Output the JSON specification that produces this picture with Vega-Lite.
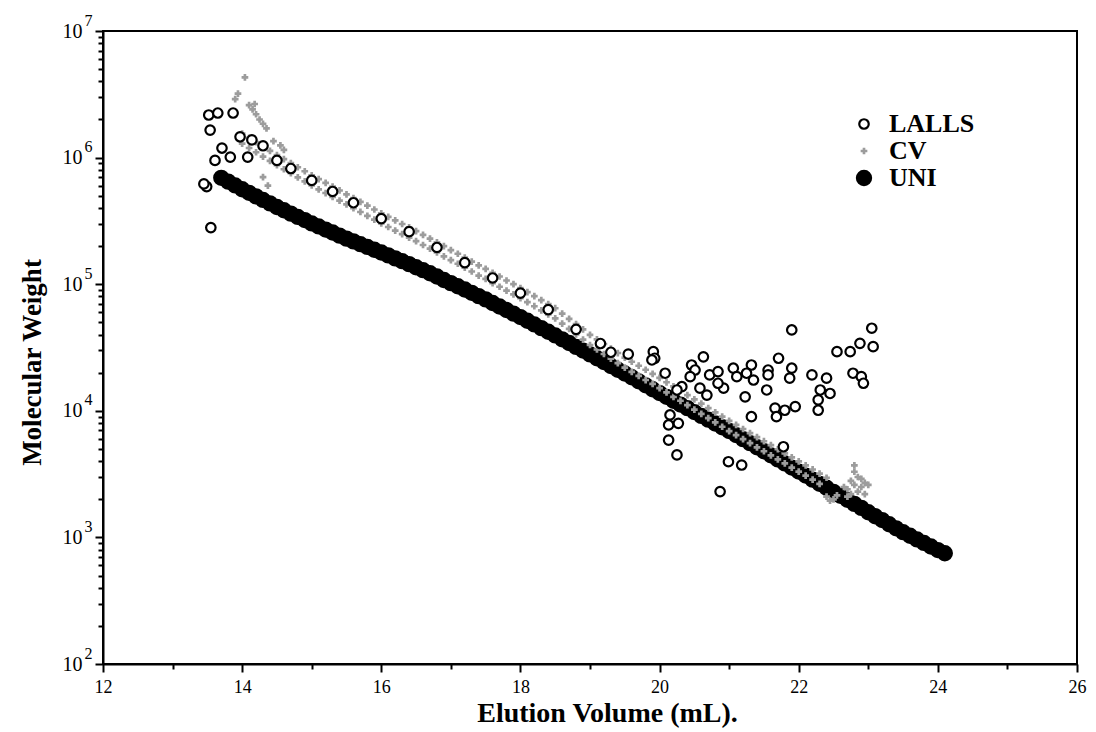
{
"$schema": "https://vega.github.io/schema/vega-lite/v6.json",
"width": 974, "height": 633,
"autosize": {"type": "none"},
"padding": {"left": 103, "top": 31, "right": 19, "bottom": 68},
"background": "white",
"config": {"view": {"stroke": "black", "strokeWidth": 2}, "font": "Liberation Serif"},
"data": {"values": [
{"s":"UNI","v":13.7,"m":692000},{"s":"UNI","v":13.8,"m":646000},{"s":"UNI","v":13.9,"m":603000},{"s":"UNI","v":14.0,"m":562000},{"s":"UNI","v":14.1,"m":527000},{"s":"UNI","v":14.2,"m":494000},{"s":"UNI","v":14.3,"m":463000},{"s":"UNI","v":14.4,"m":435000},{"s":"UNI","v":14.5,"m":407000},{"s":"UNI","v":14.6,"m":384000},{"s":"UNI","v":14.7,"m":361000},{"s":"UNI","v":14.8,"m":340000},{"s":"UNI","v":14.9,"m":321000},{"s":"UNI","v":15.0,"m":302000},{"s":"UNI","v":15.1,"m":286000},{"s":"UNI","v":15.2,"m":270000},{"s":"UNI","v":15.3,"m":256000},{"s":"UNI","v":15.4,"m":242000},{"s":"UNI","v":15.5,"m":229000},{"s":"UNI","v":15.6,"m":218000},{"s":"UNI","v":15.7,"m":207000},{"s":"UNI","v":15.8,"m":197000},{"s":"UNI","v":15.9,"m":187000},{"s":"UNI","v":16.0,"m":178000},{"s":"UNI","v":16.1,"m":169000},{"s":"UNI","v":16.2,"m":160000},{"s":"UNI","v":16.3,"m":152000},{"s":"UNI","v":16.4,"m":144000},{"s":"UNI","v":16.5,"m":136000},{"s":"UNI","v":16.6,"m":129000},{"s":"UNI","v":16.7,"m":122000},{"s":"UNI","v":16.8,"m":115000},{"s":"UNI","v":16.9,"m":108000},{"s":"UNI","v":17.0,"m":102000},{"s":"UNI","v":17.1,"m":96400},{"s":"UNI","v":17.2,"m":90800},{"s":"UNI","v":17.3,"m":85500},{"s":"UNI","v":17.4,"m":80500},{"s":"UNI","v":17.5,"m":75900},{"s":"UNI","v":17.6,"m":71100},{"s":"UNI","v":17.7,"m":66700},{"s":"UNI","v":17.8,"m":62500},{"s":"UNI","v":17.9,"m":58600},{"s":"UNI","v":18.0,"m":55000},{"s":"UNI","v":18.1,"m":51400},{"s":"UNI","v":18.2,"m":48100},{"s":"UNI","v":18.3,"m":45000},{"s":"UNI","v":18.4,"m":42100},{"s":"UNI","v":18.5,"m":39400},{"s":"UNI","v":18.6,"m":36700},{"s":"UNI","v":18.7,"m":34300},{"s":"UNI","v":18.8,"m":32000},{"s":"UNI","v":18.9,"m":29900},{"s":"UNI","v":19.0,"m":27900},{"s":"UNI","v":19.1,"m":26000},{"s":"UNI","v":19.2,"m":24300},{"s":"UNI","v":19.3,"m":22600},{"s":"UNI","v":19.4,"m":21100},{"s":"UNI","v":19.5,"m":19700},{"s":"UNI","v":19.6,"m":18400},{"s":"UNI","v":19.7,"m":17100},{"s":"UNI","v":19.8,"m":15900},{"s":"UNI","v":19.9,"m":14800},{"s":"UNI","v":20.0,"m":13800},{"s":"UNI","v":20.1,"m":12900},{"s":"UNI","v":20.2,"m":12000},{"s":"UNI","v":20.3,"m":11200},{"s":"UNI","v":20.4,"m":10500},{"s":"UNI","v":20.5,"m":9770},{"s":"UNI","v":20.6,"m":9120},{"s":"UNI","v":20.7,"m":8510},{"s":"UNI","v":20.8,"m":7940},{"s":"UNI","v":20.9,"m":7410},{"s":"UNI","v":21.0,"m":6920},{"s":"UNI","v":21.1,"m":6430},{"s":"UNI","v":21.2,"m":5970},{"s":"UNI","v":21.3,"m":5550},{"s":"UNI","v":21.4,"m":5150},{"s":"UNI","v":21.5,"m":4790},{"s":"UNI","v":21.6,"m":4450},{"s":"UNI","v":21.7,"m":4130},{"s":"UNI","v":21.8,"m":3840},{"s":"UNI","v":21.9,"m":3560},{"s":"UNI","v":22.0,"m":3310},{"s":"UNI","v":22.1,"m":3080},{"s":"UNI","v":22.2,"m":2860},{"s":"UNI","v":22.3,"m":2650},{"s":"UNI","v":22.4,"m":2470},{"s":"UNI","v":22.5,"m":2290},{"s":"UNI","v":22.6,"m":2130},{"s":"UNI","v":22.7,"m":1980},{"s":"UNI","v":22.8,"m":1840},{"s":"UNI","v":22.9,"m":1710},{"s":"UNI","v":23.0,"m":1580},{"s":"UNI","v":23.1,"m":1470},{"s":"UNI","v":23.2,"m":1370},{"s":"UNI","v":23.3,"m":1270},{"s":"UNI","v":23.4,"m":1180},{"s":"UNI","v":23.5,"m":1100},{"s":"UNI","v":23.6,"m":1030},{"s":"UNI","v":23.7,"m":964},{"s":"UNI","v":23.8,"m":904},{"s":"UNI","v":23.9,"m":847},{"s":"UNI","v":24.0,"m":794},{"s":"UNI","v":24.1,"m":750},
{"s":"CV","v":14.0,"m":1549000},{"s":"CV","v":14.0,"m":1288000},{"s":"CV","v":14.1,"m":1432000},{"s":"CV","v":14.1,"m":1191000},{"s":"CV","v":14.2,"m":1324000},{"s":"CV","v":14.2,"m":1102000},{"s":"CV","v":14.3,"m":1225000},{"s":"CV","v":14.3,"m":1019000},{"s":"CV","v":14.4,"m":1132000},{"s":"CV","v":14.4,"m":942000},{"s":"CV","v":14.5,"m":1047000},{"s":"CV","v":14.5,"m":871000},{"s":"CV","v":14.6,"m":973000},{"s":"CV","v":14.6,"m":809000},{"s":"CV","v":14.7,"m":904000},{"s":"CV","v":14.7,"m":752000},{"s":"CV","v":14.8,"m":839000},{"s":"CV","v":14.8,"m":698000},{"s":"CV","v":14.9,"m":780000},{"s":"CV","v":14.9,"m":649000},{"s":"CV","v":15.0,"m":724000},{"s":"CV","v":15.0,"m":603000},{"s":"CV","v":15.1,"m":676000},{"s":"CV","v":15.1,"m":562000},{"s":"CV","v":15.2,"m":631000},{"s":"CV","v":15.2,"m":525000},{"s":"CV","v":15.3,"m":589000},{"s":"CV","v":15.3,"m":490000},{"s":"CV","v":15.4,"m":550000},{"s":"CV","v":15.4,"m":457000},{"s":"CV","v":15.5,"m":513000},{"s":"CV","v":15.5,"m":427000},{"s":"CV","v":15.6,"m":479000},{"s":"CV","v":15.6,"m":398000},{"s":"CV","v":15.7,"m":447000},{"s":"CV","v":15.7,"m":372000},{"s":"CV","v":15.8,"m":417000},{"s":"CV","v":15.8,"m":347000},{"s":"CV","v":15.9,"m":389000},{"s":"CV","v":15.9,"m":324000},{"s":"CV","v":16.0,"m":363000},{"s":"CV","v":16.0,"m":302000},{"s":"CV","v":16.1,"m":340000},{"s":"CV","v":16.1,"m":283000},{"s":"CV","v":16.2,"m":319000},{"s":"CV","v":16.2,"m":265000},{"s":"CV","v":16.3,"m":299000},{"s":"CV","v":16.3,"m":249000},{"s":"CV","v":16.4,"m":281000},{"s":"CV","v":16.4,"m":233000},{"s":"CV","v":16.5,"m":263000},{"s":"CV","v":16.5,"m":219000},{"s":"CV","v":16.6,"m":245000},{"s":"CV","v":16.6,"m":204000},{"s":"CV","v":16.7,"m":229000},{"s":"CV","v":16.7,"m":191000},{"s":"CV","v":16.8,"m":214000},{"s":"CV","v":16.8,"m":178000},{"s":"CV","v":16.9,"m":200000},{"s":"CV","v":16.9,"m":166000},{"s":"CV","v":17.0,"m":186000},{"s":"CV","v":17.0,"m":155000},{"s":"CV","v":17.1,"m":174000},{"s":"CV","v":17.1,"m":145000},{"s":"CV","v":17.2,"m":162000},{"s":"CV","v":17.2,"m":135000},{"s":"CV","v":17.3,"m":151000},{"s":"CV","v":17.3,"m":126000},{"s":"CV","v":17.4,"m":141000},{"s":"CV","v":17.4,"m":117000},{"s":"CV","v":17.5,"m":132000},{"s":"CV","v":17.5,"m":110000},{"s":"CV","v":17.6,"m":123000},{"s":"CV","v":17.6,"m":102000},{"s":"CV","v":17.7,"m":115000},{"s":"CV","v":17.7,"m":95500},{"s":"CV","v":17.8,"m":107000},{"s":"CV","v":17.8,"m":89100},{"s":"CV","v":17.9,"m":100000},{"s":"CV","v":17.9,"m":83200},{"s":"CV","v":18.0,"m":93300},{"s":"CV","v":18.0,"m":77600},{"s":"CV","v":18.1,"m":86700},{"s":"CV","v":18.1,"m":72100},{"s":"CV","v":18.2,"m":80500},{"s":"CV","v":18.2,"m":67000},{"s":"CV","v":18.3,"m":74800},{"s":"CV","v":18.3,"m":62200},{"s":"CV","v":18.4,"m":69500},{"s":"CV","v":18.4,"m":57800},{"s":"CV","v":18.5,"m":64600},{"s":"CV","v":18.5,"m":53700},{"s":"CV","v":18.6,"m":58600},{"s":"CV","v":18.6,"m":48800},{"s":"CV","v":18.7,"m":53200},{"s":"CV","v":18.7,"m":44300},{"s":"CV","v":18.8,"m":48300},{"s":"CV","v":18.8,"m":40200},{"s":"CV","v":18.9,"m":43900},{"s":"CV","v":18.9,"m":36500},{"s":"CV","v":19.0,"m":39800},{"s":"CV","v":19.0,"m":33100},{"s":"CV","v":19.1,"m":36600},{"s":"CV","v":19.1,"m":30500},{"s":"CV","v":19.2,"m":33700},{"s":"CV","v":19.2,"m":28100},{"s":"CV","v":19.3,"m":31000},{"s":"CV","v":19.3,"m":25800},{"s":"CV","v":19.4,"m":28600},{"s":"CV","v":19.4,"m":23800},{"s":"CV","v":19.5,"m":26300},{"s":"CV","v":19.5,"m":21900},{"s":"CV","v":19.6,"m":24400},{"s":"CV","v":19.6,"m":20300},{"s":"CV","v":19.7,"m":22700},{"s":"CV","v":19.7,"m":18900},{"s":"CV","v":19.8,"m":21100},{"s":"CV","v":19.8,"m":17500},{"s":"CV","v":19.9,"m":19600},{"s":"CV","v":19.9,"m":16300},{"s":"CV","v":20.0,"m":18200},{"s":"CV","v":20.0,"m":15100},{"s":"CV","v":20.1,"m":16800},{"s":"CV","v":20.1,"m":14000},{"s":"CV","v":20.2,"m":15600},{"s":"CV","v":20.2,"m":12900},{"s":"CV","v":20.3,"m":14400},{"s":"CV","v":20.3,"m":12000},{"s":"CV","v":20.4,"m":13300},{"s":"CV","v":20.4,"m":11100},{"s":"CV","v":20.5,"m":12300},{"s":"CV","v":20.5,"m":10200},{"s":"CV","v":20.6,"m":11400},{"s":"CV","v":20.6,"m":9460},{"s":"CV","v":20.7,"m":10500},{"s":"CV","v":20.7,"m":8750},{"s":"CV","v":20.8,"m":9730},{"s":"CV","v":20.8,"m":8090},{"s":"CV","v":20.9,"m":8990},{"s":"CV","v":20.9,"m":7480},{"s":"CV","v":21.0,"m":8320},{"s":"CV","v":21.0,"m":6920},{"s":"CV","v":21.1,"m":7730},{"s":"CV","v":21.1,"m":6430},{"s":"CV","v":21.2,"m":7180},{"s":"CV","v":21.2,"m":5970},{"s":"CV","v":21.3,"m":6670},{"s":"CV","v":21.3,"m":5550},{"s":"CV","v":21.4,"m":6190},{"s":"CV","v":21.4,"m":5150},{"s":"CV","v":21.5,"m":5750},{"s":"CV","v":21.5,"m":4790},{"s":"CV","v":21.6,"m":5350},{"s":"CV","v":21.6,"m":4450},{"s":"CV","v":21.7,"m":4970},{"s":"CV","v":21.7,"m":4130},{"s":"CV","v":21.8,"m":4610},{"s":"CV","v":21.8,"m":3840},{"s":"CV","v":21.9,"m":4290},{"s":"CV","v":21.9,"m":3560},{"s":"CV","v":22.0,"m":3980},{"s":"CV","v":22.0,"m":3310},{"s":"CV","v":22.1,"m":3700},{"s":"CV","v":22.1,"m":3080},{"s":"CV","v":22.2,"m":3440},{"s":"CV","v":22.2,"m":2860},{"s":"CV","v":22.3,"m":3190},{"s":"CV","v":22.3,"m":2650},{"s":"CV","v":22.4,"m":2960},{"s":"CV","v":22.4,"m":2100},{"s":"CV","v":22.45,"m":1950},{"s":"CV","v":22.5,"m":2000},{"s":"CV","v":22.55,"m":2150},
{"s":"CV","v":22.65,"m":2500},{"s":"CV","v":22.7,"m":2400},{"s":"CV","v":22.7,"m":2100},{"s":"CV","v":22.75,"m":2800},{"s":"CV","v":22.75,"m":2200},{"s":"CV","v":22.8,"m":3300},{"s":"CV","v":22.8,"m":2600},{"s":"CV","v":22.8,"m":3700},{"s":"CV","v":22.85,"m":3000},{"s":"CV","v":22.85,"m":2300},{"s":"CV","v":22.9,"m":2500},{"s":"CV","v":22.9,"m":2900},{"s":"CV","v":22.95,"m":2700},{"s":"CV","v":22.95,"m":2200},{"s":"CV","v":23.0,"m":2600},
{"s":"CV","v":14.04,"m":4300000},{"s":"CV","v":13.94,"m":3200000},{"s":"CV","v":13.9,"m":2900000},{"s":"CV","v":14.1,"m":2600000},{"s":"CV","v":14.15,"m":2400000},{"s":"CV","v":14.2,"m":2200000},{"s":"CV","v":14.25,"m":2000000},{"s":"CV","v":14.3,"m":1850000},{"s":"CV","v":14.18,"m":2650000},{"s":"CV","v":14.35,"m":1700000},{"s":"CV","v":14.37,"m":600000},{"s":"CV","v":14.3,"m":700000},{"s":"CV","v":14.45,"m":1350000},{"s":"CV","v":14.55,"m":1250000},{"s":"CV","v":14.6,"m":1150000},
{"s":"LALLS","v":13.52,"m":2170000},{"s":"LALLS","v":13.65,"m":2250000},{"s":"LALLS","v":13.87,"m":2250000},{"s":"LALLS","v":13.54,"m":1650000},{"s":"LALLS","v":13.71,"m":1190000},{"s":"LALLS","v":13.83,"m":1010000},{"s":"LALLS","v":13.61,"m":950000},{"s":"LALLS","v":13.49,"m":590000},{"s":"LALLS","v":13.45,"m":620000},{"s":"LALLS","v":13.55,"m":280000},{"s":"LALLS","v":13.97,"m":1460000},{"s":"LALLS","v":14.14,"m":1380000},{"s":"LALLS","v":14.3,"m":1240000},{"s":"LALLS","v":14.08,"m":1010000},
{"s":"LALLS","v":14.5,"m":950000},{"s":"LALLS","v":14.7,"m":820000},{"s":"LALLS","v":15.0,"m":660000},{"s":"LALLS","v":15.3,"m":540000},{"s":"LALLS","v":15.6,"m":440000},{"s":"LALLS","v":16.0,"m":330000},{"s":"LALLS","v":16.4,"m":260000},{"s":"LALLS","v":16.8,"m":195000},{"s":"LALLS","v":17.2,"m":148000},{"s":"LALLS","v":17.6,"m":112000},{"s":"LALLS","v":18.0,"m":85000},{"s":"LALLS","v":18.4,"m":63000},{"s":"LALLS","v":18.8,"m":44000},{"s":"LALLS","v":19.15,"m":34000},{"s":"LALLS","v":19.3,"m":29000},{"s":"LALLS","v":19.55,"m":28000},
{"s":"LALLS","v":21.9,"m":43500},{"s":"LALLS","v":23.05,"m":44900},{"s":"LALLS","v":23.07,"m":32100},{"s":"LALLS","v":22.88,"m":34100},{"s":"LALLS","v":22.55,"m":29300},{"s":"LALLS","v":22.74,"m":29300},{"s":"LALLS","v":19.91,"m":29300},{"s":"LALLS","v":19.93,"m":26000},{"s":"LALLS","v":19.89,"m":25200},{"s":"LALLS","v":20.08,"m":19800},{"s":"LALLS","v":20.63,"m":26700},{"s":"LALLS","v":20.46,"m":23000},{"s":"LALLS","v":20.51,"m":21000},{"s":"LALLS","v":20.44,"m":18600},{"s":"LALLS","v":20.72,"m":19200},{"s":"LALLS","v":20.84,"m":20400},{"s":"LALLS","v":21.06,"m":21700},{"s":"LALLS","v":21.32,"m":23000},{"s":"LALLS","v":21.25,"m":19800},{"s":"LALLS","v":21.35,"m":17500},{"s":"LALLS","v":21.11,"m":18600},{"s":"LALLS","v":21.56,"m":21000},{"s":"LALLS","v":21.71,"m":26000},{"s":"LALLS","v":21.9,"m":21700},{"s":"LALLS","v":21.87,"m":18100},{"s":"LALLS","v":21.56,"m":19200},{"s":"LALLS","v":21.54,"m":14600},{"s":"LALLS","v":21.23,"m":12900},{"s":"LALLS","v":20.92,"m":15100},{"s":"LALLS","v":20.84,"m":16500},{"s":"LALLS","v":20.58,"m":15100},{"s":"LALLS","v":20.68,"m":13300},{"s":"LALLS","v":20.32,"m":15500},{"s":"LALLS","v":20.25,"m":14600},{"s":"LALLS","v":22.19,"m":19200},{"s":"LALLS","v":22.4,"m":18100},{"s":"LALLS","v":22.31,"m":14600},{"s":"LALLS","v":22.45,"m":13700},{"s":"LALLS","v":22.28,"m":12200},{"s":"LALLS","v":22.28,"m":10100},{"s":"LALLS","v":22.78,"m":19800},{"s":"LALLS","v":22.9,"m":18600},{"s":"LALLS","v":22.93,"m":16500},{"s":"LALLS","v":21.66,"m":10500},{"s":"LALLS","v":21.8,"m":10100},{"s":"LALLS","v":21.95,"m":10800},{"s":"LALLS","v":21.68,"m":8980},{"s":"LALLS","v":21.32,"m":8980},{"s":"LALLS","v":20.15,"m":9270},{"s":"LALLS","v":20.13,"m":7730},{"s":"LALLS","v":20.27,"m":7960},{"s":"LALLS","v":20.13,"m":5870},{"s":"LALLS","v":20.25,"m":4480},{"s":"LALLS","v":20.99,"m":3960},{"s":"LALLS","v":21.18,"m":3730},{"s":"LALLS","v":20.87,"m":2300},{"s":"LALLS","v":21.78,"m":5200}
]},
"layer": [
{
"mark": {"type": "point", "strokeWidth": 2.2, "opacity": 1},
"encoding": {
"x": {"field": "v", "type": "quantitative", "scale": {"domain": [12, 26], "nice": false, "zero": false},
 "axis": {"title": "Elution Volume (mL).", "values": [12,13,14,15,16,17,18,19,20,21,22,23,24,25,26],
  "labelExpr": "datum.value % 2 == 0 ? datum.label : ''", "labelFlush": false, "labelOverlap": false,
  "domainColor": "black", "domainWidth": 2, "tickColor": "black", "tickWidth": 2,
  "tickSize": {"condition": {"test": "datum.value % 2 == 0", "value": 8}, "value": 5},
  "labelFont": "Liberation Serif", "labelFontSize": 18, "labelColor": "black", "labelPadding": 6,
  "titleFont": "Liberation Serif", "titleFontSize": 28, "titleFontWeight": "bold", "titleColor": "black",
  "titleX": 504, "titleY": 57, "titleBaseline": "alphabetic", "titleAlign": "center", "grid": false}},
"y": {"field": "m", "type": "quantitative", "scale": {"type": "log", "domain": [100, 10000000], "nice": false},
 "axis": {"title": "Molecular Weight",
  "values": [100,200,300,400,500,600,700,800,900,1000,2000,3000,4000,5000,6000,7000,8000,9000,10000,20000,30000,40000,50000,60000,70000,80000,90000,100000,200000,300000,400000,500000,600000,700000,800000,900000,1000000,2000000,3000000,4000000,5000000,6000000,7000000,8000000,9000000,10000000],
  "labelExpr": "abs(log(datum.value)/LN10 - round(log(datum.value)/LN10)) < 0.000001 ? '10' : ''",
  "labelOverlap": false, "labelFlush": false,
  "domainColor": "black", "domainWidth": 2, "tickColor": "black", "tickWidth": 2,
  "tickSize": {"condition": {"test": "abs(log(datum.value)/LN10 - round(log(datum.value)/LN10)) < 0.000001", "value": 8}, "value": 5},
  "labelFont": "Liberation Serif", "labelFontSize": 20, "labelColor": "black", "labelPadding": 13,
  "titleFont": "Liberation Serif", "titleFontSize": 27, "titleFontWeight": "bold", "titleColor": "black",
  "titleX": -63, "titleY": 331, "titleBaseline": "alphabetic", "titleAlign": "center", "titleAngle": -90, "grid": false}},
"shape": {"field": "s", "type": "nominal", "scale": {"domain": ["LALLS", "CV", "UNI"], "range": ["circle", "cross", "circle"]},
 "legend": {"orient": "none", "legendX": 748, "legendY": 80, "title": null, "labelFont": "Liberation Serif", "labelFontSize": 26, "labelFontWeight": "bold", "labelColor": "black", "rowPadding": 1, "labelOffset": 12, "symbolStrokeWidth": 2.2}},
"fill": {"field": "s", "type": "nominal", "scale": {"domain": ["LALLS", "CV", "UNI"], "range": ["white", "#9c9c9c", "black"]}},
"stroke": {"field": "s", "type": "nominal", "scale": {"domain": ["LALLS", "CV", "UNI"], "range": ["black", "transparent", "black"]}},
"size": {"field": "s", "type": "nominal", "scale": {"type": "ordinal", "domain": ["LALLS", "CV", "UNI"], "range": [90, 45, 200]}}
}
},
{
"mark": {"type": "point", "opacity": 0},
"encoding": {
"y": {"field": "m", "type": "quantitative", "scale": {"type": "log", "domain": [100, 10000000], "nice": false},
 "axis": {"orient": "left", "title": null, "values": [100,1000,10000,100000,1000000,10000000],
  "labelExpr": "datum.value == 100 ? '2' : datum.value == 1000 ? '3' : datum.value == 10000 ? '4' : datum.value == 100000 ? '5' : datum.value == 1000000 ? '6' : '7'",
  "ticks": false, "domain": false, "grid": false, "labelOverlap": false, "labelFlush": false,
  "labelFont": "Liberation Serif", "labelFontSize": 16, "labelColor": "black", "labelPadding": 11, "labelOffset": -11}}
}
}
],
"resolve": {"scale": {"y": "independent"}, "axis": {"y": "independent"}}
}
